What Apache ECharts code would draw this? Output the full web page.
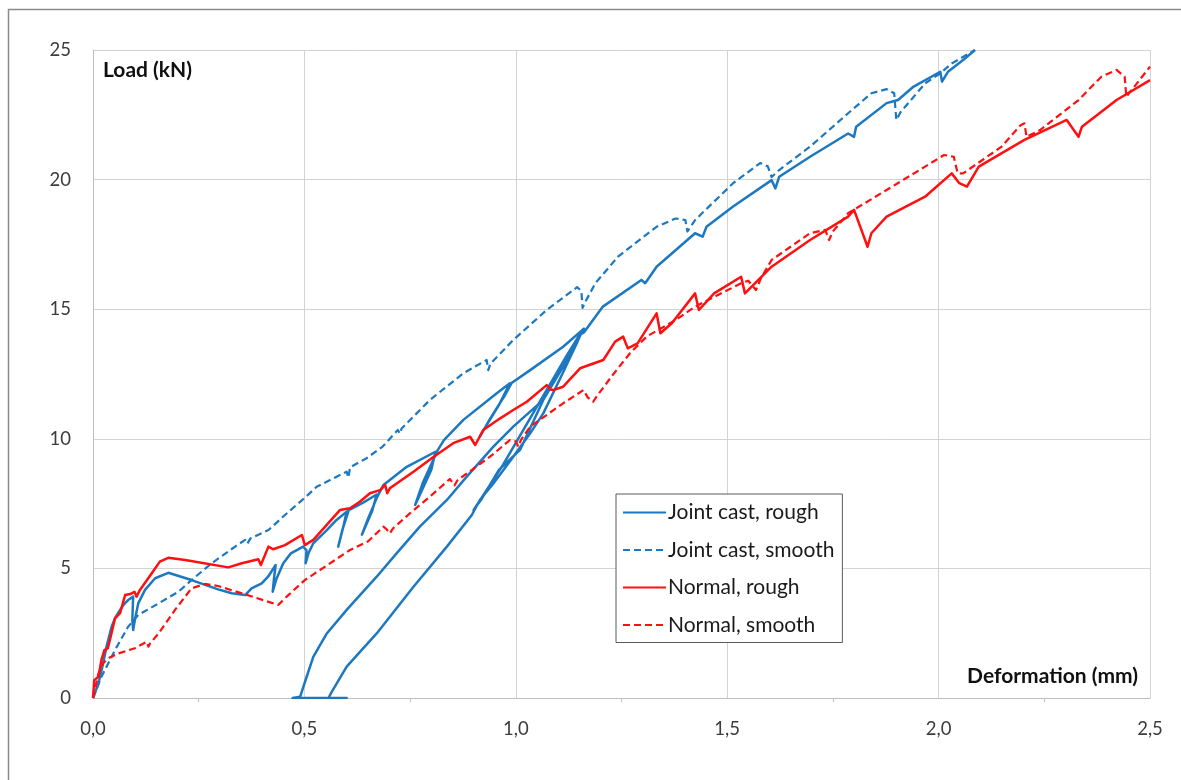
<!DOCTYPE html>
<html>
<head>
<meta charset="utf-8">
<script src="https://cdn.jsdelivr.net/npm/echarts@6/dist/echarts.min.js"></script>
<style>
html,body{margin:0;padding:0;background:#fff;}
#chart{width:1181px;height:780px;}
</style>
</head>
<body>
<div id="chart"></div>
<script>
// ---- data (deformation mm, load kN) ----
const seriesNames = ['Joint cast, rough', 'Joint cast, smooth', 'Normal, rough', 'Normal, smooth'];
const xTicks = [0, 0.5, 1.0, 1.5, 2.0, 2.5];
const yTicks = [0, 5, 10, 15, 20, 25];

// Joint cast, rough: first loading with small unload loops
const jointRoughLoad1 = [
  [0,0],[0.013,0.57],[0.024,1.34],[0.032,1.98],[0.044,2.75],[0.052,3.08],[0.064,3.4],[0.072,3.59],
  [0.083,3.78],[0.095,3.91],[0.099,3.85],[0.093,3.0],[0.095,2.62],[0.1,3.1],[0.107,3.65],[0.123,4.17],
  [0.147,4.62],[0.178,4.83],[0.233,4.55],[0.296,4.19],[0.328,4.04],[0.36,3.97],[0.375,4.23],[0.399,4.42],
  [0.414,4.68],[0.432,5.13],[0.428,4.6],[0.425,4.1],[0.434,4.6],[0.45,5.2],[0.468,5.58],[0.497,5.84],
  [0.505,5.7],[0.503,5.2],[0.51,5.6],[0.521,5.97],[0.553,6.48],[0.576,6.87],[0.6,7.19],[0.592,6.6],
  [0.58,5.84],[0.59,6.5],[0.605,7.25],[0.64,7.55],[0.671,7.85],[0.66,7.2],[0.636,6.3],[0.65,6.9],
  [0.672,7.75],[0.687,8.22],[0.742,8.92],[0.81,9.5],[0.8,8.8],[0.762,7.45],[0.78,8.3],[0.815,9.55],
  [0.83,9.95],[0.876,10.73],[0.955,11.76],[0.986,12.14],[0.96,11.3],[0.93,10.5],[0.915,10.08],[0.94,10.8],
  [0.975,11.7],[0.99,12.15],[1.034,12.65],[1.112,13.55],[1.161,14.25]
];
// unloading to zero, then along zero
const jointRoughUnload = [
  [1.12,13.0],[1.065,11.5],[0.994,10.47],[0.947,9.7],[0.884,8.54],[0.837,7.64],[0.773,6.61],[0.718,5.58],
  [0.671,4.68],[0.6,3.4],[0.553,2.49],[0.521,1.59],[0.505,0.8],[0.49,0.05],[0.472,0],[0.6,0],[0.557,0]
];
// reloading with cycles, then on to 25 kN
const jointRoughReload = [
  [0.565,0.25],[0.6,1.21],[0.671,2.49],[0.758,4.29],[0.837,5.84],[0.896,7.06],[0.915,7.64],[0.947,8.28],
  [0.994,9.31],[1.034,10.21],[1.065,10.98],[1.11,12.5],[1.144,13.68],[1.158,14.2],[1.12,13.2],
  [1.07,11.8],[1.02,10.4],[0.97,9.0],[0.93,8.0],[0.9,7.25],[0.92,7.7],[0.96,8.8],[1.01,9.57],
  [1.065,11.5],[1.11,12.9],[1.15,14.0],[1.161,14.1],[1.206,15.1],[1.297,16.13],[1.306,16.0],
  [1.333,16.64],[1.424,17.93],[1.442,17.8],[1.451,18.18],[1.514,18.96],[1.605,19.98],[1.614,19.66],
  [1.623,20.11],[1.696,20.88],[1.786,21.78],[1.8,21.65],[1.805,22.04],[1.877,22.95],[1.904,23.07],
  [1.941,23.59],[2.004,24.16],[2.008,23.78],[2.022,24.16],[2.058,24.61],[2.086,25.0]
];

const jointSmooth = [
  [0,0],[0.02,0.82],[0.052,1.85],[0.083,2.75],[0.107,3.2],[0.155,3.65],[0.202,4.1],[0.233,4.55],
  [0.281,5.2],[0.336,5.84],[0.36,6.1],[0.365,5.95],[0.372,6.15],[0.415,6.48],[0.45,7.0],[0.504,7.77],
  [0.529,8.15],[0.568,8.47],[0.6,8.73],[0.604,8.5],[0.608,8.9],[0.647,9.25],[0.685,9.7],[0.721,10.34],
  [0.726,10.2],[0.73,10.4],[0.797,11.5],[0.876,12.53],[0.931,13.04],[0.935,12.65],[0.94,12.9],
  [0.994,13.81],[1.073,14.97],[1.145,15.85],[1.155,15.7],[1.158,15.05],[1.165,15.3],[1.188,16.0],
  [1.242,17.03],[1.333,18.18],[1.378,18.5],[1.401,18.44],[1.406,18.0],[1.424,18.44],[1.514,19.86],
  [1.578,20.64],[1.596,20.51],[1.605,20.1],[1.623,20.37],[1.696,21.27],[1.786,22.56],[1.841,23.33],
  [1.877,23.49],[1.895,23.33],[1.9,22.3],[1.91,22.6],[1.968,23.71],[2.004,24.1],[2.031,24.48],[2.086,25.0]
];

const normalRough = [
  [0,0],[0.003,0.69],[0.013,0.82],[0.02,1.47],[0.027,1.85],[0.035,1.92],[0.04,2.24],[0.052,3.07],
  [0.064,3.27],[0.076,3.97],[0.088,4.01],[0.098,4.1],[0.103,3.91],[0.111,4.17],[0.139,4.81],[0.158,5.26],
  [0.178,5.41],[0.218,5.32],[0.32,5.04],[0.352,5.2],[0.391,5.35],[0.397,5.13],[0.415,5.84],[0.426,5.74],
  [0.454,5.9],[0.494,6.29],[0.501,5.9],[0.521,6.1],[0.584,7.25],[0.608,7.32],[0.631,7.57],[0.655,7.9],
  [0.679,8.02],[0.691,8.22],[0.696,7.9],[0.702,8.09],[0.758,8.73],[0.805,9.3],[0.852,9.83],[0.892,10.08],
  [0.904,9.76],[0.923,10.34],[0.963,10.79],[0.994,11.11],[1.026,11.43],[1.073,12.07],[1.082,11.9],
  [1.088,11.88],[1.112,12.01],[1.152,12.72],[1.207,13.04],[1.235,13.75],[1.254,13.94],[1.265,13.49],
  [1.288,13.68],[1.333,14.84],[1.342,14.07],[1.369,14.46],[1.424,15.61],[1.433,14.97],[1.469,15.61],
  [1.533,16.25],[1.542,15.61],[1.605,16.64],[1.696,17.67],[1.786,18.57],[1.8,18.83],[1.832,17.41],
  [1.841,17.93],[1.877,18.57],[1.968,19.34],[2.031,20.24],[2.049,19.86],[2.067,19.73],[2.095,20.5],
  [2.203,21.53],[2.303,22.3],[2.331,21.65],[2.339,22.04],[2.421,23.07],[2.5,23.84]
];

const normalSmooth = [
  [0,0],[0.013,0.95],[0.024,1.34],[0.036,1.53],[0.06,1.72],[0.099,1.92],[0.127,2.17],[0.131,1.98],
  [0.135,2.1],[0.155,2.49],[0.194,3.4],[0.233,4.23],[0.265,4.4],[0.296,4.32],[0.352,4.04],[0.438,3.59],
  [0.462,3.97],[0.501,4.55],[0.549,5.07],[0.608,5.71],[0.651,6.05],[0.687,6.61],[0.695,6.5],[0.702,6.35],
  [0.71,6.55],[0.75,7.13],[0.797,7.77],[0.844,8.45],[0.855,8.2],[0.862,8.4],[0.939,9.31],[0.986,9.95],
  [1.0,9.9],[1.006,9.7],[1.012,9.95],[1.034,10.47],[1.112,11.37],[1.16,11.88],[1.17,11.6],[1.183,11.43],
  [1.191,11.63],[1.231,12.5],[1.27,13.3],[1.31,13.95],[1.378,14.58],[1.424,15.1],[1.533,16.0],[1.55,16.1],
  [1.568,15.74],[1.58,16.2],[1.605,16.9],[1.696,17.93],[1.732,18.06],[1.741,17.67],[1.75,18.0],[1.786,18.7],
  [1.877,19.6],[1.968,20.5],[2.013,20.95],[2.036,20.88],[2.045,20.24],[2.058,20.24],[2.149,21.27],
  [2.194,22.1],[2.203,22.17],[2.208,21.65],[2.24,21.91],[2.331,23.07],[2.385,23.97],[2.421,24.23],
  [2.44,23.97],[2.444,23.2],[2.457,23.46],[2.5,24.36]
];

const jointRough = jointRoughLoad1.concat(jointRoughUnload, jointRoughReload);

const BLUE = '#1c78c0';
const RED = '#ff0f0f';
const FONT = 'Lato';

const chart = echarts.init(document.getElementById('chart'), null, {renderer: 'canvas'});

function lineSeries(name, data, color, dashed, width) {
  return {
    name: name, type: 'line', data: data, showSymbol: false, symbol: 'none',
    sampling: null, clip: true, animation: false,
    lineStyle: {color: color, width: width, type: dashed ? [7, 4] : 'solid', join: 'round'},
    itemStyle: {color: color}
  };
}

chart.setOption({
  animation: false,
  backgroundColor: '#ffffff',
  grid: {left: 93, right: 31, top: 50, bottom: 82, containLabel: false},
  xAxis: {
    type: 'value', min: xTicks[0], max: xTicks[xTicks.length - 1], interval: 0.5,
    axisLine: {show: true, lineStyle: {color: '#bdbdbd', width: 1}},
    axisTick: {show: false},
    minorTick: {show: true, splitNumber: 2, length: 4, lineStyle: {color: '#bdbdbd'}},
    axisLabel: {
      color: '#3c3c3c', fontSize: 18.5, fontFamily: FONT, margin: 22,
      formatter: v => v.toFixed(1).replace('.', ',')
    },
    splitLine: {show: true, lineStyle: {color: '#d3d3d3', width: 1}}
  },
  yAxis: {
    type: 'value', min: yTicks[0], max: yTicks[yTicks.length - 1], interval: 5,
    axisLine: {show: true, lineStyle: {color: '#bdbdbd', width: 1}},
    axisTick: {show: false},
    axisLabel: {color: '#3c3c3c', fontSize: 18.5, fontFamily: FONT, margin: 22},
    splitLine: {show: true, lineStyle: {color: '#d3d3d3', width: 1}}
  },
  legend: {
    orient: 'vertical', left: 616, top: 494,
    padding: [8, 8, 7, 6], itemGap: 16.5, itemWidth: 43, itemHeight: 14,
    backgroundColor: '#ffffff', borderColor: '#5a5a5a', borderWidth: 1, borderRadius: 0,
    itemStyle: {opacity: 0},
    textStyle: {fontSize: 21, fontFamily: FONT, color: '#1a1a1a', padding: [0, 0, 0, -3]},
    data: seriesNames
  },
  graphic: [
    {type: 'rect', silent: true, z: -10, shape: {x: 8.5, y: 9.5, width: 1400, height: 1000},
     style: {fill: 'none', stroke: '#8a8a8a', lineWidth: 1.5}},
    {type: 'text', left: 103, top: 60, z: 50,
     style: {text: 'Load (kN)', font: 'bold 21px ' + FONT, fill: '#111'}},
    {type: 'text', right: 43, top: 666, z: 50,
     style: {text: 'Deformation (mm)', font: 'bold 21px ' + FONT, fill: '#111'}}
  ],
  series: [
    lineSeries(seriesNames[0], jointRough, BLUE, false, 2.5),
    lineSeries(seriesNames[1], jointSmooth, BLUE, true, 2.2),
    lineSeries(seriesNames[2], normalRough, RED, false, 2.5),
    lineSeries(seriesNames[3], normalSmooth, RED, true, 2.2)
  ]
});
</script>
</body>
</html>
